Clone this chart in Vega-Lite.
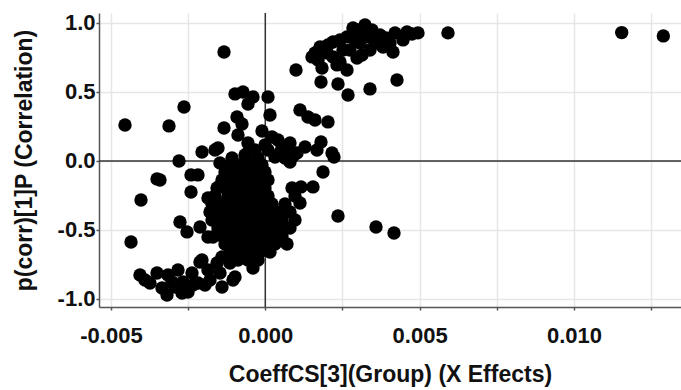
{
  "$schema": "https://vega.github.io/schema/vega-lite/v6.json",
  "width": 582,
  "height": 294,
  "autosize": {"type": "none"},
  "padding": {"left": 99, "top": 13, "right": 0, "bottom": 83},
  "config": {
    "view": {"stroke": null},
    "font": "Liberation Sans",
    "axis": {
      "labelFont": "Liberation Sans", "labelFontWeight": "bold", "labelFontSize": 22, "labelColor": "#111",
      "titleFont": "Liberation Sans", "titleFontWeight": "bold", "titleFontSize": 23, "titleColor": "#111",
      "gridColor": "#e6e6e6", "gridWidth": 1.5,
      "domainColor": "#555", "domainWidth": 1.5,
      "tickColor": "#555", "tickWidth": 1.5, "tickSize": 3
    }
  },
  "layer": [
    {
      "data": {"values": [{"v": 0}]},
      "mark": {"type": "rule", "color": "#333", "strokeWidth": 1.5},
      "encoding": {"x": {"field": "v", "type": "quantitative", "scale": {"domain": [-0.005388, 0.013469], "nice": false, "zero": false}}}
    },
    {
      "data": {"values": [{"v": 0}]},
      "mark": {"type": "rule", "color": "#333", "strokeWidth": 1.5},
      "encoding": {"y": {"field": "v", "type": "quantitative", "scale": {"domain": [-1.058, 1.072], "nice": false, "zero": false}}}
    },
    {
      "data": {"values": [
        {"x": -0.004546, "y": 0.261}, {"x": -0.004351, "y": -0.587}, {"x": -0.00312, "y": 0.254}, {"x": -0.002634, "y": 0.391},
        {"x": -0.002796, "y": 0}, {"x": -0.003509, "y": -0.130}, {"x": -0.004027, "y": -0.283}, {"x": -0.001338, "y": 0.790},
        {"x": 0.000995, "y": 0.659}, {"x": -0.001338, "y": 0.239}, {"x": -0.000982, "y": 0.486}, {"x": -0.000723, "y": 0.5},
        {"x": -0.000399, "y": 0.464}, {"x": -0.000561, "y": 0.413}, {"x": 0.0000875, "y": 0.464}, {"x": 0.000152, "y": 0.333},
        {"x": -0.000917, "y": 0.319}, {"x": -0.000755, "y": 0.268}, {"x": -0.000885, "y": 0.188}, {"x": -0.000107, "y": 0.217},
        {"x": 0.000217, "y": 0.174}, {"x": -0.000561, "y": 0.130}, {"x": -0.000334, "y": 0.080}, {"x": -0.001533, "y": 0.094},
        {"x": -0.002051, "y": 0.065}, {"x": -0.00163, "y": 0.080}, {"x": -0.001468, "y": -0.014}, {"x": -0.001209, "y": -0.087},
        {"x": -0.002407, "y": -0.101}, {"x": -0.002181, "y": -0.101}, {"x": -0.002407, "y": -0.225}, {"x": -0.001468, "y": -0.181},
        {"x": -0.001759, "y": -0.275}, {"x": -0.003412, "y": -0.138},
        {"x": 0.001124, "y": 0.370}, {"x": 0.001383, "y": 0.319}, {"x": 0.00161, "y": 0.297}, {"x": 0.002031, "y": 0.283},
        {"x": 0.0008, "y": 0.130}, {"x": 0.000541, "y": 0.101}, {"x": 0.001286, "y": 0.101}, {"x": 0.001805, "y": 0.138},
        {"x": 0.002161, "y": 0.058}, {"x": 0.000314, "y": 0.029}, {"x": 0.0000875, "y": 0.080}, {"x": 0.000897, "y": 0.036},
        {"x": 0.0008, "y": -0.007}, {"x": 0.001027, "y": 0.058}, {"x": 0.001675, "y": 0.080}, {"x": 0.00187, "y": -0.080},
        {"x": 0.002226, "y": 0.029}, {"x": 0.001545, "y": -0.188}, {"x": 0.001157, "y": -0.188}, {"x": 0.001124, "y": -0.304},
        {"x": 0.002355, "y": -0.399}, {"x": 0.003587, "y": -0.478}, {"x": 0.00417, "y": -0.522}, {"x": -0.000561, "y": 0.058},
        {"x": 0.000476, "y": 0.058},
        {"x": -0.000658, "y": 0.043}, {"x": -0.000237, "y": 0.022}, {"x": 0.000638, "y": 0.022}, {"x": -0.00001, "y": 0.116},
        {"x": 0.000411, "y": 0.152}, {"x": 0.000671, "y": 0.080}, {"x": -0.001079, "y": 0.022},
        {"x": 0.001805, "y": 0.572}, {"x": 0.002355, "y": 0.558}, {"x": 0.00268, "y": 0.478}, {"x": 0.003392, "y": 0.522},
        {"x": 0.004267, "y": 0.587}, {"x": 0.001772, "y": 0.826}, {"x": 0.001707, "y": 0.732}, {"x": 0.001837, "y": 0.674},
        {"x": 0.002193, "y": 0.862}, {"x": 0.002193, "y": 0.754}, {"x": 0.002323, "y": 0.696}, {"x": 0.002647, "y": 0.659},
        {"x": 0.002647, "y": 0.899}, {"x": 0.002744, "y": 0.804}, {"x": 0.002971, "y": 0.746}, {"x": 0.003003, "y": 0.949},
        {"x": 0.003068, "y": 0.855}, {"x": 0.003295, "y": 0.899}, {"x": 0.003392, "y": 0.804}, {"x": 0.003554, "y": 0.855},
        {"x": 0.003716, "y": 0.913}, {"x": 0.003813, "y": 0.826}, {"x": 0.00404, "y": 0.855}, {"x": 0.004137, "y": 0.790},
        {"x": 0.004461, "y": 0.899}, {"x": 0.004591, "y": 0.935}, {"x": 0.002517, "y": 0.804}, {"x": 0.001999, "y": 0.783},
        {"x": 0.00161, "y": 0.783}, {"x": 0.00323, "y": 0.986}, {"x": 0.002841, "y": 0.964}, {"x": 0.004947, "y": 0.928},
        {"x": 0.005919, "y": 0.928}, {"x": 0.004461, "y": 0.877}, {"x": 0.002031, "y": 0.841}, {"x": 0.00242, "y": 0.717},
        {"x": 0.003133, "y": 0.768}, {"x": 0.003457, "y": 0.949}, {"x": 0.003911, "y": 0.891}, {"x": 0.004202, "y": 0.928},
        {"x": 0.001513, "y": 0.754}, {"x": 0.002906, "y": 0.877}, {"x": 0.00242, "y": 0.877}, {"x": 0.004753, "y": 0.920},
        {"x": 0.011548, "y": 0.930}, {"x": 0.012896, "y": 0.906},
        {"x": -0.00406, "y": -0.826}, {"x": -0.003736, "y": -0.884}, {"x": -0.003509, "y": -0.812}, {"x": -0.003347, "y": -0.920},
        {"x": -0.003185, "y": -0.971}, {"x": -0.003153, "y": -0.826}, {"x": -0.002829, "y": -0.790}, {"x": -0.002926, "y": -0.913},
        {"x": -0.002667, "y": -0.877}, {"x": -0.002505, "y": -0.949}, {"x": -0.002375, "y": -0.812}, {"x": -0.002181, "y": -0.884},
        {"x": -0.002051, "y": -0.717}, {"x": -0.001857, "y": -0.790}, {"x": -0.001792, "y": -0.862}, {"x": -0.001565, "y": -0.739},
        {"x": -0.001403, "y": -0.696}, {"x": -0.002699, "y": -0.957}, {"x": -0.002116, "y": -0.732}, {"x": -0.001468, "y": -0.812},
        {"x": -0.001047, "y": -0.862}, {"x": -0.001144, "y": -0.739}, {"x": -0.000399, "y": -0.775}, {"x": -0.003898, "y": -0.862},
        {"x": -0.003023, "y": -0.877}, {"x": -0.002343, "y": -0.899}, {"x": -0.001954, "y": -0.899}, {"x": -0.001403, "y": -0.913},
        {"x": -0.000982, "y": -0.841},
        {"x": -0.002764, "y": -0.442}, {"x": -0.002537, "y": -0.514}, {"x": -0.002116, "y": -0.478}, {"x": -0.001695, "y": -0.551},
        {"x": -0.001857, "y": -0.551}, {"x": -0.001468, "y": -0.377}, {"x": -0.001857, "y": -0.268}, {"x": -0.001565, "y": -0.196},
        {"x": -0.001144, "y": -0.029}, {"x": -0.00082, "y": -0.029}, {"x": -0.000496, "y": -0.029}, {"x": -0.000107, "y": -0.029},
        {"x": -0.001306, "y": -0.080}, {"x": -0.000982, "y": -0.080}, {"x": -0.000658, "y": -0.080}, {"x": -0.000334, "y": -0.080}, {"x": -0.00001, "y": -0.080},
        {"x": -0.001403, "y": -0.138}, {"x": -0.001079, "y": -0.138}, {"x": -0.000755, "y": -0.138}, {"x": -0.000431, "y": -0.138}, {"x": -0.000107, "y": -0.138}, {"x": 0.0000875, "y": -0.138},
        {"x": -0.001306, "y": -0.196}, {"x": -0.000982, "y": -0.196}, {"x": -0.000658, "y": -0.196}, {"x": -0.000334, "y": -0.196}, {"x": -0.00001, "y": -0.196}, {"x": 0.000865, "y": -0.196},
        {"x": -0.00163, "y": -0.254}, {"x": -0.001209, "y": -0.254}, {"x": -0.000885, "y": -0.254}, {"x": -0.000561, "y": -0.254}, {"x": -0.000237, "y": -0.254}, {"x": 0.0000875, "y": -0.254}, {"x": 0.000962, "y": -0.254},
        {"x": -0.001727, "y": -0.312}, {"x": -0.001403, "y": -0.312}, {"x": -0.001079, "y": -0.312}, {"x": -0.000755, "y": -0.312}, {"x": -0.000431, "y": -0.312}, {"x": -0.000107, "y": -0.312}, {"x": 0.000217, "y": -0.312}, {"x": 0.000638, "y": -0.312},
        {"x": -0.001792, "y": -0.370}, {"x": -0.001468, "y": -0.370}, {"x": -0.001144, "y": -0.370}, {"x": -0.00082, "y": -0.370}, {"x": -0.000496, "y": -0.370}, {"x": -0.000172, "y": -0.370}, {"x": 0.000152, "y": -0.370}, {"x": 0.000476, "y": -0.370}, {"x": 0.0008, "y": -0.370},
        {"x": -0.001727, "y": -0.428}, {"x": -0.001403, "y": -0.428}, {"x": -0.001079, "y": -0.428}, {"x": -0.000755, "y": -0.428}, {"x": -0.000431, "y": -0.428}, {"x": -0.000107, "y": -0.428}, {"x": 0.000217, "y": -0.428}, {"x": 0.000541, "y": -0.428}, {"x": 0.000962, "y": -0.428},
        {"x": -0.001533, "y": -0.486}, {"x": -0.001209, "y": -0.486}, {"x": -0.000885, "y": -0.486}, {"x": -0.000561, "y": -0.486}, {"x": -0.000237, "y": -0.486}, {"x": 0.0000875, "y": -0.486}, {"x": 0.000411, "y": -0.486}, {"x": 0.0008, "y": -0.486},
        {"x": -0.001403, "y": -0.543}, {"x": -0.001079, "y": -0.543}, {"x": -0.000755, "y": -0.543}, {"x": -0.000431, "y": -0.543}, {"x": -0.000107, "y": -0.543}, {"x": 0.000217, "y": -0.543}, {"x": 0.000541, "y": -0.543},
        {"x": -0.001306, "y": -0.601}, {"x": -0.000982, "y": -0.601}, {"x": -0.000658, "y": -0.601}, {"x": -0.000334, "y": -0.601}, {"x": -0.00001, "y": -0.601}, {"x": 0.000314, "y": -0.601}, {"x": 0.000703, "y": -0.601},
        {"x": -0.001144, "y": -0.659}, {"x": -0.00082, "y": -0.659}, {"x": -0.000496, "y": -0.659}, {"x": -0.000172, "y": -0.659}, {"x": 0.000152, "y": -0.659},
        {"x": -0.000885, "y": -0.717}, {"x": -0.000561, "y": -0.717}, {"x": -0.000237, "y": -0.717}
      ]},
      "mark": {"type": "point", "shape": "circle", "filled": true, "color": "#000", "opacity": 1, "size": 180},
      "encoding": {
        "x": {
          "field": "x", "type": "quantitative",
          "scale": {"domain": [-0.005388, 0.013469], "nice": false, "zero": false},
          "axis": {
            "title": "CoeffCS[3](Group) (X Effects)",
            "values": [-0.005, -0.0025, 0, 0.0025, 0.005, 0.0075, 0.01, 0.0125],
            "labelExpr": "datum.value === -0.005 ? '-0.005' : datum.value === 0 ? '0.000' : datum.value === 0.005 ? '0.005' : datum.value === 0.01 ? '0.010' : ''",
            "labelPadding": 15, "titlePadding": 17, "labelFlush": false
          }
        },
        "y": {
          "field": "y", "type": "quantitative",
          "scale": {"domain": [-1.058, 1.072], "nice": false, "zero": false},
          "axis": {
            "title": "p(corr)[1]P (Correlation)",
            "values": [-1, -0.75, -0.5, -0.25, 0, 0.25, 0.5, 0.75, 1],
            "labelExpr": "datum.value === -1 ? '-1.0' : datum.value === -0.5 ? '-0.5' : datum.value === 0 ? '0.0' : datum.value === 0.5 ? '0.5' : datum.value === 1 ? '1.0' : ''",
            "labelPadding": 1, "titlePadding": 21, "labelFlush": false
          }
        }
      }
    }
  ]
}
